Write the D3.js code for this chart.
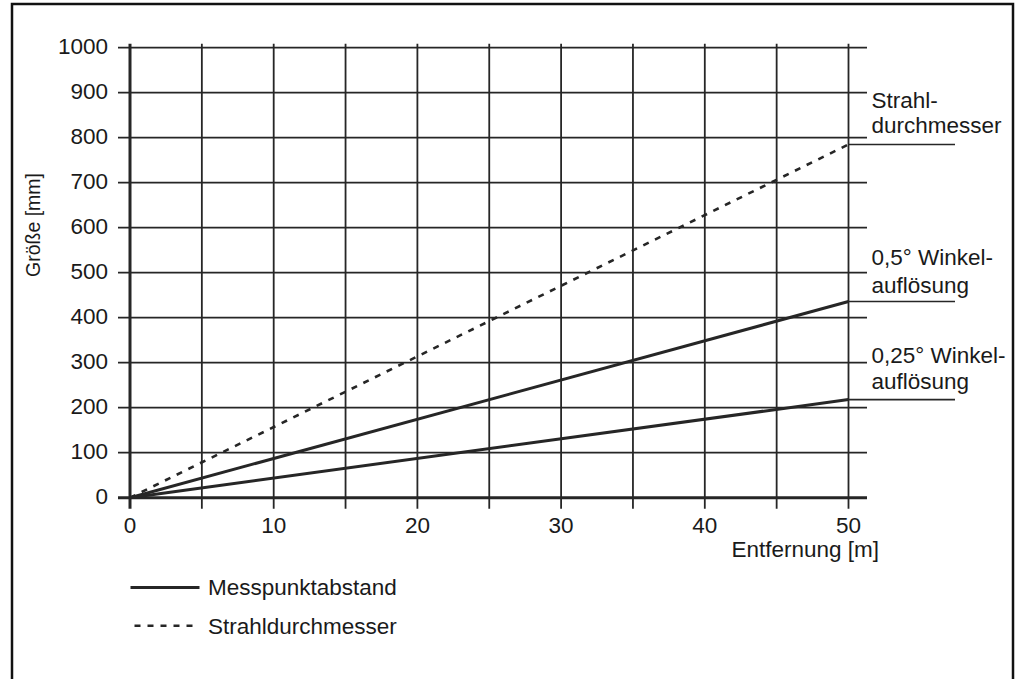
<!DOCTYPE html>
<html>
<head>
<meta charset="utf-8">
<script src="https://cdn.jsdelivr.net/npm/d3@7"></script>
<style>
  html, body { margin: 0; padding: 0; background: #fff; }
  svg text { font-family: "Liberation Sans", Arial, sans-serif; fill: #1a1a1a; }
</style>
</head>
<body>
<svg id="chart" width="1026" height="679"></svg>
<script>
// ---- data ----
const distances = [0, 50];                 // Entfernung [m]
const beamDiameter = [0, 785];             // Strahldurchmesser [mm]
const spacing05 = [0, 436];                // 0,5° Winkelauflösung [mm]
const spacing025 = [0, 218];               // 0,25° Winkelauflösung [mm]
const xTicks = [0, 10, 20, 30, 40, 50];
const xGrid = [0, 5, 10, 15, 20, 25, 30, 35, 40, 45, 50];
const yTicks = [0, 100, 200, 300, 400, 500, 600, 700, 800, 900, 1000];
const labelStrahl = ["Strahl-", "durchmesser"];
const label05 = ["0,5° Winkel-", "auflösung"];
const label025 = ["0,25° Winkel-", "auflösung"];
const legendNames = ["Messpunktabstand", "Strahldurchmesser"];
const xTitle = "Entfernung [m]";
const yTitle = "Größe [mm]";

// ---- drawing ----
const ink = "#262626";
const svg = d3.select("#chart");

svg.append("rect").attr("x", 12).attr("y", 4).attr("width", 1001).attr("height", 700)
  .attr("fill", "none").attr("stroke", "#111").attr("stroke-width", 2.5);

const x = d3.scaleLinear().domain([0, 50]).range([130, 848.5]);
const y = d3.scaleLinear().domain([0, 1000]).range([497.7, 47.7]);
const gridRight = 867;
const FS = "22.5px";

const g = svg.append("g");

// vertical grid lines
g.selectAll(".vg").data(xGrid).join("line")
  .attr("x1", d => x(d)).attr("x2", d => x(d))
  .attr("y1", y(1000) - 4).attr("y2", y(0) + 11)
  .attr("stroke", ink).attr("stroke-width", d => d === 0 ? 3 : 1.8);

// horizontal grid lines
g.selectAll(".hg").data(yTicks).join("line")
  .attr("x1", x(0) - 12).attr("x2", gridRight)
  .attr("y1", d => y(d)).attr("y2", d => y(d))
  .attr("stroke", ink).attr("stroke-width", d => d === 0 ? 3 : 1.8);

// y tick labels
g.selectAll(".yl").data(yTicks).join("text")
  .attr("x", 108).attr("y", d => y(d) + 6)
  .attr("text-anchor", "end").style("font-size", FS)
  .text(d => d);

// x tick labels
g.selectAll(".xl").data(xTicks).join("text")
  .attr("x", d => x(d)).attr("y", 532.5)
  .attr("text-anchor", "middle").style("font-size", FS)
  .text(d => d);

// axis titles
svg.append("text").attr("x", 879).attr("y", 557).attr("text-anchor", "end")
  .style("font-size", FS).text(xTitle);
svg.append("g").attr("transform", "translate(40,225)")
  .append("text").attr("transform", "rotate(-90)")
  .attr("text-anchor", "middle").style("font-size", "19.5px").text(yTitle);

// data lines
const line = d3.line().x(d => x(d[0])).y(d => y(d[1]));
function series(vals) { return distances.map((d, i) => [d, vals[i]]); }

svg.append("path").datum(series(beamDiameter)).attr("d", line)
  .attr("fill", "none").attr("stroke", ink).attr("stroke-width", 2.6)
  .attr("stroke-dasharray", "6,7");
svg.append("path").datum(series(spacing05)).attr("d", line)
  .attr("fill", "none").attr("stroke", ink).attr("stroke-width", 3);
svg.append("path").datum(series(spacing025)).attr("d", line)
  .attr("fill", "none").attr("stroke", ink).attr("stroke-width", 3);

// leader lines and labels
const lastIdx = distances.length - 1;
const annotations = [
  { v: beamDiameter[lastIdx], lines: labelStrahl, offs: [-36, -11.5] },
  { v: spacing05[lastIdx], lines: label05, offs: [-36.5, -8.5] },
  { v: spacing025[lastIdx], lines: label025, offs: [-37, -10.5] }
];
annotations.forEach(a => {
  const yy = y(a.v);
  svg.append("line").attr("x1", x(distances[lastIdx])).attr("x2", 955)
    .attr("y1", yy).attr("y2", yy).attr("stroke", ink).attr("stroke-width", 1.6);
  a.lines.forEach((t, i) => {
    svg.append("text").attr("x", 871.5).attr("y", yy + a.offs[i])
      .style("font-size", FS).text(t);
  });
});

// legend
const leg = svg.append("g");
leg.append("line").attr("x1", 130.5).attr("x2", 199.5).attr("y1", 587.5).attr("y2", 587.5)
  .attr("stroke", ink).attr("stroke-width", 3);
leg.append("text").attr("x", 208).attr("y", 595).style("font-size", FS).text(legendNames[0]);
leg.append("line").attr("x1", 134.5).attr("x2", 199.5).attr("y1", 625.7).attr("y2", 625.7)
  .attr("stroke", ink).attr("stroke-width", 2.6).attr("stroke-dasharray", "6,7");
leg.append("text").attr("x", 208).attr("y", 633.5).style("font-size", FS).text(legendNames[1]);
</script>
</body>
</html>
